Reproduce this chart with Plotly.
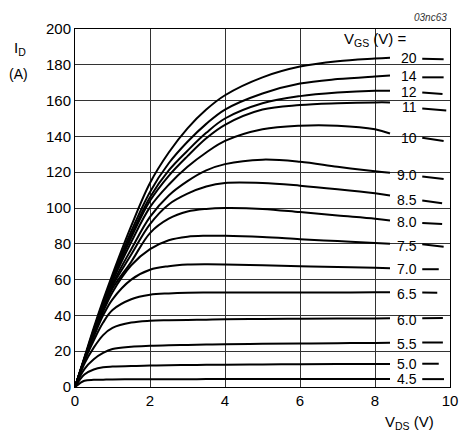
import plotly.graph_objects as go

# ---- data ----
VDS = [0, 0.25, 0.5, 0.75, 1, 1.5, 2, 2.5, 3, 3.5, 4, 5, 6, 7, 8, 8.4]
VGS_LABELS = ["20", "14", "12", "11", "10", "9.0", "8.5", "8.0", "7.5", "7.0", "6.5", "6.0", "5.5", "5.0", "4.5"]

I_20 = [0, 16.5, 33, 48.5, 63, 90, 114, 131, 144.5, 155, 163, 173, 179, 182, 183.5, 184]
I_14 = [0, 16, 32, 47, 61.5, 87, 109, 125, 137, 147, 155, 164, 169.5, 172, 173.5, 174]
I_12 = [0, 16, 31.5, 46.5, 60.5, 85, 106, 121, 132, 142, 150, 158.5, 162.5, 164.5, 165.5, 165.5]
I_11 = [0, 15.5, 31, 46, 60, 83.5, 104, 118, 129, 139, 146.5, 155, 157.5, 158.5, 159, 159]
I_10 = [0, 15.5, 31, 45.5, 59, 81, 100.5, 113, 123, 131, 137.5, 144, 146, 146, 144, 141.6]
I_9 = [0, 15.5, 30, 44.5, 57.5, 77, 95, 107, 115, 121, 124.5, 127, 125.8, 123, 120.5, 119.7]
I_85 = [0, 15, 30, 44, 56.5, 74, 91, 102, 108, 112, 114, 114, 112.5, 110.5, 108.2, 107]
I_8 = [0, 15, 29.5, 43, 55, 70, 86, 94, 98, 99.5, 100, 99.5, 97.7, 95.8, 94, 93]
I_75 = [0, 15, 29, 42, 53, 68, 77, 82, 84, 84.5, 84.5, 83.8, 82.6, 81.5, 80.4, 80]
I_7 = [0, 15, 28, 40, 49, 60, 65.5, 67.5, 68.4, 68.6, 68.5, 68, 67.5, 67, 66.6, 66.4]
I_65 = [0, 14.5, 26, 36, 43, 49, 51.5, 52.3, 52.7, 52.8, 52.8, 52.8, 52.8, 52.8, 52.9, 52.9]
I_6 = [0, 13, 22, 29, 33, 36, 37, 37.3, 37.5, 37.6, 37.8, 38, 38.1, 38.2, 38.3, 38.4]
I_55 = [0, 10, 15.5, 19, 21.2, 22.5, 23, 23.3, 23.5, 23.7, 23.9, 24.1, 24.3, 24.5, 24.6, 24.7]
I_5 = [0, 7, 9.8, 11, 11.4, 11.8, 12, 12.2, 12.3, 12.4, 12.5, 12.6, 12.7, 12.8, 12.9, 12.9]
I_45 = [0, 3.5, 4, 4.1, 4.2, 4.3, 4.3, 4.3, 4.3, 4.4, 4.4, 4.4, 4.4, 4.4, 4.4, 4.4]

CURVES = [I_20, I_14, I_12, I_11, I_10, I_9, I_85, I_8, I_75, I_7, I_65, I_6, I_55, I_5, I_45]

# short continuation segments right of the labels
SEG_X0 = 9.26
SEG_X1 = [9.83, 9.83, 9.8, 9.9, 9.83, 9.83, 9.79, 9.79, 9.83, 9.7, 9.66, 9.81, 9.81, 9.7, 9.84]
SEG_Y0 = [183.4, 173, 164.5, 155.6, 139.2, 117.6, 104.2, 91.6, 79.7, 65.8, 52.8, 38.4, 24.8, 13, 4.4]
SEG_Y1 = [183.1, 173, 163.7, 154.5, 137.4, 116.2, 102.7, 91.0, 78.4, 65.8, 52.6, 38.5, 24.9, 13, 4.4]

LABEL_X = 9.18
LABEL_Y = [183.8, 173.7, 165, 156.3, 139.2, 118.4, 104.2, 92, 78.9, 66, 52, 37.3, 24.3, 12.9, 4.6]

X_TICKS = [0, 2, 4, 6, 8, 10]
Y_TICKS = [0, 20, 40, 60, 80, 100, 120, 140, 160, 180, 200]

FONT = "Liberation Sans, Arial, sans-serif"

fig = go.Figure()
for i, ys in enumerate(CURVES):
    fig.add_trace(go.Scatter(
        x=VDS, y=ys, mode="lines",
        line=dict(color="black", width=2, shape="spline", smoothing=1.0),
        showlegend=False, hoverinfo="skip"))
    fig.add_trace(go.Scatter(
        x=[SEG_X0, SEG_X1[i]], y=[SEG_Y0[i], SEG_Y1[i]], mode="lines",
        line=dict(color="black", width=2),
        showlegend=False, hoverinfo="skip"))

annotations = []
for lab, ly in zip(VGS_LABELS, LABEL_Y):
    annotations.append(dict(x=LABEL_X, y=ly, xref="x", yref="y", text=lab,
                            showarrow=False, xanchor="right", yanchor="middle",
                            font=dict(size=14, color="black", family=FONT)))

# plot area in screen pixels (page body adds an 8 px offset)
W, H, L, T = 383.0, 362.0, 75.0, 25.0


def px2paper(px, py):
    return (px - L) / W, (T + H - py) / H


def add_text(text, px, py, xanchor, size, italic=False, color="black"):
    x, y = px2paper(px, py)
    t = f"<i>{text}</i>" if italic else text
    annotations.append(dict(x=x, y=y, xref="paper", yref="paper", text=t,
                            showarrow=False, xanchor=xanchor, yanchor="middle",
                            font=dict(size=size, color=color, family=FONT)))


add_text("I<sub>D</sub>", 11, 45, "left", 15)
add_text("(A)", 17.5, 70.5, "center", 14)
add_text("V<sub>DS</sub> (V)", 417, 423, "center", 15)
add_text("V<sub>GS</sub> (V) =", 382, 36, "center", 15)
add_text("03nc63", 457, 13.5, "right", 10, italic=True, color="#333")

fig.update_layout(
    width=462, height=429,
    margin=dict(l=67, r=12, t=17, b=50),
    paper_bgcolor="white", plot_bgcolor="white",
    font=dict(family=FONT, size=15, color="black"),
    annotations=annotations,
    showlegend=False,
)
fig.update_xaxes(range=[0, 10], tickvals=X_TICKS, ticktext=[str(v) for v in X_TICKS],
                 showgrid=True, gridcolor="#333", gridwidth=1,
                 showline=True, linecolor="black", linewidth=1, mirror=True,
                 ticks="", zeroline=False, tickfont=dict(size=15))
fig.update_yaxes(range=[0, 200], tickvals=Y_TICKS, ticktext=[str(v) for v in Y_TICKS],
                 showgrid=True, gridcolor="#333", gridwidth=1,
                 showline=True, linecolor="black", linewidth=1, mirror=True,
                 ticks="", zeroline=False, tickfont=dict(size=15))

fig.write_html("out.html")
